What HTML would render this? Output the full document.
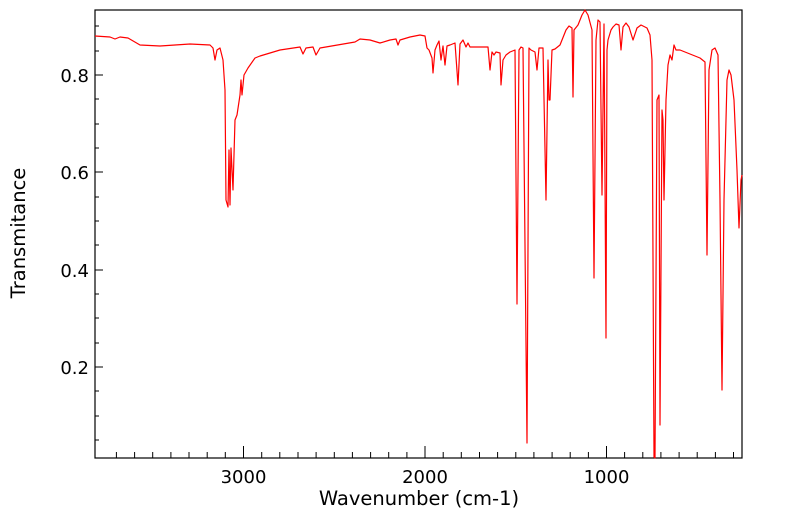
<!DOCTYPE html>
<html><head><style>
body{margin:0;background:#fff;width:799px;height:516px;overflow:hidden}
text{font-family:"DejaVu Sans","Liberation Sans",sans-serif;fill:#000}
</style></head><body>
<svg width="799" height="516" xmlns="http://www.w3.org/2000/svg">
<rect x="95" y="10" width="647" height="448" fill="none" stroke="#000" stroke-width="1.2"/>
<g stroke="#000" stroke-width="1">
<line x1="95" y1="75" x2="103" y2="75"/><line x1="95" y1="172" x2="103" y2="172"/>
<line x1="95" y1="270" x2="103" y2="270"/><line x1="95" y1="367" x2="103" y2="367"/>
<line x1="95" y1="26" x2="99" y2="26"/><line x1="95" y1="51" x2="99" y2="51"/><line x1="95" y1="99" x2="99" y2="99"/><line x1="95" y1="124" x2="99" y2="124"/><line x1="95" y1="148" x2="99" y2="148"/><line x1="95" y1="197" x2="99" y2="197"/><line x1="95" y1="221" x2="99" y2="221"/><line x1="95" y1="245" x2="99" y2="245"/><line x1="95" y1="294" x2="99" y2="294"/><line x1="95" y1="318" x2="99" y2="318"/><line x1="95" y1="343" x2="99" y2="343"/><line x1="95" y1="391" x2="99" y2="391"/><line x1="95" y1="416" x2="99" y2="416"/><line x1="95" y1="440" x2="99" y2="440"/>
<line x1="243.5" y1="458" x2="243.5" y2="446"/><line x1="425" y1="458" x2="425" y2="446"/><line x1="606.5" y1="458" x2="606.5" y2="446"/>
<line x1="116.4" y1="458" x2="116.4" y2="452"/><line x1="134.6" y1="458" x2="134.6" y2="452"/><line x1="152.7" y1="458" x2="152.7" y2="452"/><line x1="170.9" y1="458" x2="170.9" y2="452"/><line x1="189" y1="458" x2="189" y2="452"/><line x1="207.2" y1="458" x2="207.2" y2="452"/><line x1="225.3" y1="458" x2="225.3" y2="452"/>
<line x1="261.7" y1="458" x2="261.7" y2="452"/><line x1="279.8" y1="458" x2="279.8" y2="452"/><line x1="298" y1="458" x2="298" y2="452"/><line x1="316.1" y1="458" x2="316.1" y2="452"/><line x1="334.3" y1="458" x2="334.3" y2="452"/><line x1="352.4" y1="458" x2="352.4" y2="452"/><line x1="370.6" y1="458" x2="370.6" y2="452"/><line x1="388.7" y1="458" x2="388.7" y2="452"/><line x1="406.9" y1="458" x2="406.9" y2="452"/>
<line x1="443.2" y1="458" x2="443.2" y2="452"/><line x1="461.3" y1="458" x2="461.3" y2="452"/><line x1="479.5" y1="458" x2="479.5" y2="452"/><line x1="497.6" y1="458" x2="497.6" y2="452"/><line x1="515.8" y1="458" x2="515.8" y2="452"/><line x1="533.9" y1="458" x2="533.9" y2="452"/><line x1="552.1" y1="458" x2="552.1" y2="452"/><line x1="570.2" y1="458" x2="570.2" y2="452"/><line x1="588.4" y1="458" x2="588.4" y2="452"/>
<line x1="624.6" y1="458" x2="624.6" y2="452"/><line x1="642.8" y1="458" x2="642.8" y2="452"/><line x1="660.9" y1="458" x2="660.9" y2="452"/><line x1="679.1" y1="458" x2="679.1" y2="452"/><line x1="697.2" y1="458" x2="697.2" y2="452"/><line x1="715.4" y1="458" x2="715.4" y2="452"/><line x1="733.5" y1="458" x2="733.5" y2="452"/>
</g>
<g font-size="18">
<text x="89" y="82" text-anchor="end">0.8</text>
<text x="89" y="179" text-anchor="end">0.6</text>
<text x="89" y="277" text-anchor="end">0.4</text>
<text x="89" y="374" text-anchor="end">0.2</text>
<text x="243.5" y="483" text-anchor="middle">3000</text>
<text x="425" y="483" text-anchor="middle">2000</text>
<text x="606.5" y="483" text-anchor="middle">1000</text>
</g>
<g font-size="19.5">
<text x="419" y="505" text-anchor="middle">Wavenumber (cm-1)</text>
<text transform="translate(25,233) rotate(-90)" text-anchor="middle">Transmitance</text>
</g>
<polyline fill="none" stroke="#ff0000" stroke-width="1.2" stroke-linejoin="round" points="95,36 110,37 115,39 120,37 128,38 140,45 160,46 190,44 210,45 213,48 215,60 217,50 220,48 223,60 225,90 226,200 228,207 229,150 230,205 231,148 233,190 235,120 237,115 240,95 241,80 242,95 244,75 248,68 255,58 260,56 280,50 300,47 303,54 306,48 313,47 316,55 320,48 355,42 360,39 370,40 380,43 390,40 396,39 398,45 400,40 410,37 420,35 425,36 427,48 429,50 432,58 433,73 435,50 437,45 439,41 441,60 443,46 445,65 447,46 450,45 455,43 458,85 460,44 463,40 466,47 468,43 470,47 475,47 488,47 490,70 492,52 494,55 496,52 500,53 501,85 503,60 506,55 510,52 515,50 517,304 519,50 521,47 523,48 527,443 529,48 531,50 535,52 537,70 539,48 543,48 546,200 548,60 549,100 550,100 552,50 555,49 560,45 566,30 569,26 572,28 573,97 574,30 578,25 582,15 585,10 588,15 592,30 594,278 596,40 598,20 600,22 602,195 604,24 606,338 607,50 608,40 611,30 613,27 616,24 619,25 621,50 623,27 626,23 629,27 633,40 637,28 641,25 647,28 650,35 652,60 654,457 655,458 657,100 659,95 660,425 662,110 663,120 664,200 666,100 668,65 670,55 672,60 674,45 676,50 680,50 700,58 705,62 707,255 709,70 712,50 715,48 718,55 720,200 722,390 724,200 727,80 729,70 731,75 734,100 737,170 739,228 741,180 742,175"/>
</svg>
</body></html>
